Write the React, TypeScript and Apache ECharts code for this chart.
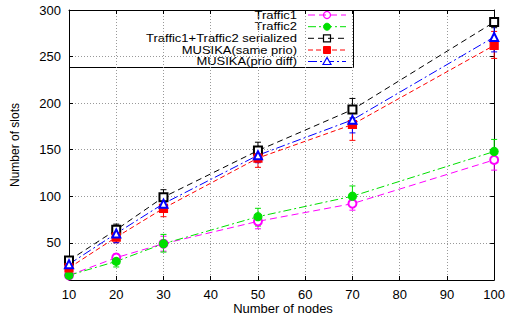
import React, { useEffect, useRef } from "react";
import * as echarts from "echarts";

const nodes = [10, 20, 30, 50, 70, 100];
const seriesNames = [
  "Traffic1",
  "Traffic2",
  "Traffic1+Traffic2 serialized",
  "MUSIKA(same prio)",
  "MUSIKA(prio diff)",
];
const traffic1 = [15, 34, 49, 73, 92, 139];
const traffic1Low = [13, 29, 41, 65, 85, 128];
const traffic1High = [17, 38, 57, 80, 99, 148];
const traffic2 = [15, 30, 49, 78, 100, 148];
const traffic2Low = [12, 24, 40, 68, 92, 138];
const traffic2High = [18, 36, 59, 87, 111, 161];
const serialized = [31, 64, 99, 149, 193, 287];
const serializedLow = [27, 58, 91, 141, 184, 281];
const serializedHigh = [35, 70, 107, 158, 205, 291];
const samePrio = [23, 56, 87, 141, 177, 262];
const samePrioLow = [19, 50, 78, 131, 160, 248];
const samePrioHigh = [27, 62, 95, 150, 190, 277];
const prioDiff = [27, 60, 92, 144, 182, 271];
const prioDiffLow = [22, 50, 84, 136, 168, 255];
const prioDiffHigh = [32, 68, 100, 152, 194, 283];
const yTicks = [50, 100, 150, 200, 250, 300];

const colors = ["#ff00ff", "#00e000", "#000000", "#ff0000", "#0000ff"];
const dashes = [
  [7, 4],
  [8, 3, 2, 3],
  [6, 4],
  [5, 3],
  [9, 3, 2, 3],
];
const symbols = ["emptyCircle", "circle", "emptyRect", "rect", "emptyTriangle"];
const symbolSizes = [8, 8, 8, 8, 8];

const FONT = "Liberation Sans, Arial, Helvetica, sans-serif";

const values = [traffic1, traffic2, serialized, samePrio, prioDiff];
const lows = [traffic1Low, traffic2Low, serializedLow, samePrioLow, prioDiffLow];
const highs = [traffic1High, traffic2High, serializedHigh, samePrioHigh, prioDiffHigh];

export default function App() {
  const ref = useRef<HTMLDivElement>(null);
  useEffect(() => {
    if (!ref.current) return;
    const chart = echarts.init(ref.current, null, { renderer: "svg" });

    const gridLeft = 69;
    const gridTop = 10;
    const gridRight = 11;
    const gridBottom = 38;

    const series: any[] = [];
    values.forEach((vals, i) => {
      series.push({
        type: "custom",
        name: seriesNames[i] + " err",
        data: nodes.map((n, k) => [n, lows[i][k], highs[i][k]]),
        encode: { x: 0, y: [1, 2] },
        z: 2,
        renderItem: (params: any, api: any) => {
          const x = api.value(0);
          const lo = api.coord([x, api.value(1)]);
          const hi = api.coord([x, api.value(2)]);
          const w = 3;
          const style = { stroke: colors[i], lineWidth: 1 };
          return {
            type: "group",
            children: [
              { type: "line", shape: { x1: lo[0], y1: lo[1], x2: hi[0], y2: hi[1] }, style },
              { type: "line", shape: { x1: lo[0] - w, y1: lo[1], x2: lo[0] + w, y2: lo[1] }, style },
              { type: "line", shape: { x1: hi[0] - w, y1: hi[1], x2: hi[0] + w, y2: hi[1] }, style },
            ],
          };
        },
      });
    });
    values.forEach((vals, i) => {
      series.push({
        type: "line",
        name: seriesNames[i],
        data: nodes.map((n, k) => [n, vals[k]]),
        symbol: symbols[i],
        symbolSize: symbolSizes[i],
        showSymbol: true,
        z: 3,
        lineStyle: { color: colors[i], width: 1, type: dashes[i] },
        itemStyle: {
          color: colors[i],
          borderColor: colors[i],
          borderWidth: i === 2 || i === 4 ? 2 : 1.2,
        },
      });
    });

    // Legend (gnuplot key style)
    const plotRight = 508 - gridRight;
    const keyLeft = gridLeft;
    const keyRight = 353;
    const keyTop = gridTop;
    const keyBottom = 67;
    const textRight = 297;
    const sampleX1 = 308;
    const sampleX2 = 346;
    const markX = 327;
    const rowY = [15, 26.7, 38.3, 50, 61.5];
    const legendChildren: any[] = [
      {
        type: "rect",
        shape: { x: keyLeft + 0.5, y: keyTop + 0.5, width: keyRight - keyLeft, height: keyBottom - keyTop },
        style: { fill: "#ffffff", stroke: "#000000", lineWidth: 1 },
      },
    ];
    seriesNames.forEach((name, i) => {
      const y = rowY[i];
      legendChildren.push({
        type: "text",
        x: textRight,
        y: y,
        scaleX: 1.18,
        style: {
          text: name,
          font: `11px ${FONT}`,
          fill: "#000000",
          align: "right",
          verticalAlign: "middle",
        },
      });
      legendChildren.push({
        type: "line",
        shape: { x1: sampleX1, y1: y, x2: sampleX2, y2: y },
        style: { stroke: colors[i], lineWidth: 1, lineDash: dashes[i] },
      });
      const s = 3.5;
      if (i === 0) {
        legendChildren.push({
          type: "circle",
          shape: { cx: markX, cy: y, r: s },
          style: { fill: "none", stroke: colors[i], lineWidth: 1.2 },
        });
      } else if (i === 1) {
        legendChildren.push({
          type: "circle",
          shape: { cx: markX, cy: y, r: s },
          style: { fill: colors[i], stroke: colors[i], lineWidth: 1 },
        });
      } else if (i === 2) {
        legendChildren.push({
          type: "rect",
          shape: { x: markX - s, y: y - s, width: 2 * s, height: 2 * s },
          style: { fill: "none", stroke: colors[i], lineWidth: 1.2 },
        });
      } else if (i === 3) {
        legendChildren.push({
          type: "rect",
          shape: { x: markX - s, y: y - s, width: 2 * s, height: 2 * s },
          style: { fill: colors[i], stroke: colors[i], lineWidth: 1 },
        });
      } else {
        legendChildren.push({
          type: "polygon",
          shape: { points: [[markX, y - 4], [markX - 4, y + 3], [markX + 4, y + 3]] },
          style: { fill: "#ffffff", stroke: colors[i], lineWidth: 1.2 },
        });
      }
    });

    const axisCommon = {
      axisLine: { show: true, lineStyle: { color: "#000000", width: 1 } },
      axisTick: { show: true, inside: true, length: 4, lineStyle: { color: "#000000" } },
    };

    const option: any = {
      animation: false,
      backgroundColor: "#ffffff",
      grid: { left: gridLeft, right: gridRight, top: gridTop, bottom: gridBottom },
      xAxis: [
        {
          type: "value",
          min: 10,
          max: 100,
          interval: 10,
          ...axisCommon,
          axisLabel: { color: "#000000", fontFamily: FONT, fontSize: 13, margin: 8 },
          splitLine: { show: true, lineStyle: { color: "#999999", type: [1, 2], width: 1 } },
        },
        {
          type: "value",
          position: "top",
          min: 10,
          max: 100,
          interval: 10,
          ...axisCommon,
          axisLabel: { show: false },
          splitLine: { show: false },
        },
      ],
      yAxis: [
        {
          type: "value",
          min: 10,
          max: 300,
          ...axisCommon,
          axisTick: { ...axisCommon.axisTick, customValues: yTicks },
          axisLabel: { color: "#000000", fontFamily: FONT, fontSize: 13, margin: 8, customValues: yTicks },
          splitLine: { show: true, lineStyle: { color: "#999999", type: [1, 2], width: 1 } },
        },
        {
          type: "value",
          position: "right",
          min: 10,
          max: 300,
          ...axisCommon,
          axisTick: { ...axisCommon.axisTick, customValues: yTicks },
          axisLabel: { show: false },
          splitLine: { show: false },
        },
      ],
      graphic: [
        {
          type: "text",
          x: 15,
          y: 145,
          rotation: Math.PI / 2,
          style: {
            text: "Number of slots",
            font: `12px ${FONT}`,
            fill: "#000000",
            align: "center",
            verticalAlign: "middle",
          },
        },
        {
          type: "text",
          x: (gridLeft + plotRight) / 2,
          y: 308,
          style: {
            text: "Number of nodes",
            font: `13px ${FONT}`,
            fill: "#000000",
            align: "center",
            verticalAlign: "middle",
          },
        },
        { type: "group", z: 100, children: legendChildren },
      ],
      series,
    };
    chart.setOption(option);
    return () => chart.dispose();
  }, []);
  return (
    <div
      ref={ref}
      style={{ position: "fixed", left: 0, top: 0, width: 508, height: 318 }}
    />
  );
}
